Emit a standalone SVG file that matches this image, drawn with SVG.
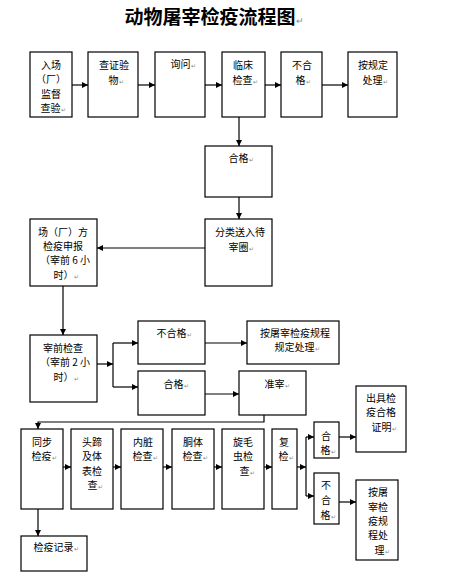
<svg xmlns="http://www.w3.org/2000/svg" width="449" height="581" viewBox="0 0 449 581">
<style>
.b{fill:#fff;stroke:#000;stroke-width:1.2}
.t{font-family:"Noto Sans CJK SC","Noto Sans",sans-serif;font-size:10px;text-anchor:middle;fill:#000}
.m{font-size:6px;fill:#888}
.c line,.c path{stroke:#000;stroke-width:1.2;fill:none}
.a{marker-end:url(#ah)}
</style>
<defs>
<marker id="ah" markerUnits="userSpaceOnUse" markerWidth="7" markerHeight="7" refX="6" refY="3" orient="auto">
<path d="M0,0 L6,3 L0,6 z" fill="#000"/>
</marker>
</defs>
<rect width="449" height="581" fill="#fff"/>
<text x="214" y="24" style="font-family:'Noto Sans CJK SC',sans-serif;font-size:19px;font-weight:bold;text-anchor:middle">动物屠宰检疫流程图<tspan class="m" style="font-size:9px;font-weight:normal">↵</tspan></text>

<g class="c">
<line class="a" x1="72" y1="85" x2="88" y2="85"/>
<line class="a" x1="138" y1="85" x2="155" y2="85"/>
<line class="a" x1="205" y1="85" x2="222" y2="85"/>
<line class="a" x1="265" y1="85" x2="281" y2="85"/>
<line class="a" x1="322" y1="85" x2="348" y2="85"/>
<line class="a" x1="239" y1="117" x2="239" y2="146"/>
<line class="a" x1="239" y1="197" x2="239" y2="219"/>
<line class="a" x1="205" y1="248" x2="97" y2="248"/>
<line class="a" x1="63" y1="286" x2="63" y2="335"/>
<line class="a" x1="97" y1="364" x2="113" y2="364"/>
<line x1="113" y1="343" x2="113" y2="387"/>
<line class="a" x1="113" y1="343" x2="138" y2="343"/>
<line class="a" x1="113" y1="387" x2="138" y2="387"/>
<line class="a" x1="205" y1="343" x2="247" y2="343"/>
<line class="a" x1="205" y1="394" x2="239" y2="394"/>
<path class="a" d="M264,415 V422 H38 V429"/>
<line class="a" x1="63" y1="467" x2="71" y2="467"/>
<line class="a" x1="113" y1="467" x2="121" y2="467"/>
<line class="a" x1="163" y1="467" x2="172" y2="467"/>
<line class="a" x1="214" y1="467" x2="222" y2="467"/>
<line class="a" x1="264" y1="467" x2="272" y2="467"/>
<line class="a" x1="297" y1="467" x2="306" y2="467"/>
<line x1="306" y1="437" x2="306" y2="496"/>
<line class="a" x1="306" y1="437" x2="314" y2="437"/>
<line class="a" x1="306" y1="496" x2="314" y2="496"/>
<line class="a" x1="339" y1="437" x2="356" y2="437"/>
<line class="a" x1="339" y1="502" x2="356" y2="502"/>
<line class="a" x1="38" y1="509" x2="38" y2="536"/>
</g>

<g id="n1"><rect class="b" x="30" y="52" width="42" height="65"/><text class="t"><tspan x="51" y="69">入场</tspan><tspan x="51" y="83">（厂）</tspan><tspan x="51" y="98">监督</tspan><tspan x="53" y="112">查验<tspan class="m">↵</tspan></tspan></text></g>
<g id="n2"><rect class="b" x="88" y="52" width="50" height="65"/><text class="t"><tspan x="114" y="69">查证验</tspan><tspan x="116" y="84">物<tspan class="m">↵</tspan></tspan></text></g>
<g id="n3"><rect class="b" x="155" y="52" width="50" height="65"/><text class="t"><tspan x="183" y="68">询问<tspan class="m">↵</tspan></tspan></text></g>
<g id="n4"><rect class="b" x="222" y="52" width="43" height="65"/><text class="t"><tspan x="243" y="69">临床</tspan><tspan x="245" y="84">检查<tspan class="m">↵</tspan></tspan></text></g>
<g id="n5"><rect class="b" x="281" y="52" width="41" height="65"/><text class="t"><tspan x="302" y="69">不合</tspan><tspan x="303" y="84">格<tspan class="m">↵</tspan></tspan></text></g>
<g id="n6"><rect class="b" x="348" y="52" width="49" height="65"/><text class="t"><tspan x="373" y="69">按规定</tspan><tspan x="375" y="84">处理<tspan class="m">↵</tspan></tspan></text></g>
<g id="n7"><rect class="b" x="205" y="146" width="67" height="51"/><text class="t"><tspan x="241" y="162">合格<tspan class="m">↵</tspan></tspan></text></g>
<g id="n8"><rect class="b" x="205" y="219" width="67" height="67"/><text class="t"><tspan x="240" y="236">分类送入待</tspan><tspan x="241" y="251">宰圈<tspan class="m">↵</tspan></tspan></text></g>
<g id="n9"><rect class="b" x="30" y="219" width="67" height="67"/><text class="t"><tspan x="63" y="236">场（厂）方</tspan><tspan x="63" y="250">检疫申报</tspan><tspan x="65" y="264">（宰前 6 小</tspan><tspan x="66" y="279">时）<tspan class="m">↵</tspan></tspan></text></g>
<g id="n10"><rect class="b" x="30" y="335" width="67" height="67"/><text class="t"><tspan x="63" y="352">宰前检查</tspan><tspan x="65" y="366">（宰前 2 小</tspan><tspan x="66" y="381">时）<tspan class="m">↵</tspan></tspan></text></g>
<g id="n11"><rect class="b" x="138" y="321" width="67" height="43"/><text class="t"><tspan x="174" y="337">不合格<tspan class="m">↵</tspan></tspan></text></g>
<g id="n12"><rect class="b" x="247" y="321" width="92" height="43"/><text class="t"><tspan x="295" y="337">按屠宰检疫规程</tspan><tspan x="297" y="351">规定处理<tspan class="m">↵</tspan></tspan></text></g>
<g id="n13"><rect class="b" x="138" y="371" width="67" height="44"/><text class="t"><tspan x="176" y="388">合格<tspan class="m">↵</tspan></tspan></text></g>
<g id="n14"><rect class="b" x="239" y="371" width="67" height="44"/><text class="t"><tspan x="277" y="388">准宰<tspan class="m">↵</tspan></tspan></text></g>
<g id="n15"><rect class="b" x="356" y="386" width="50" height="66"/><text class="t"><tspan x="381" y="402">出具检</tspan><tspan x="381" y="416">疫合格</tspan><tspan x="384" y="431">证明<tspan class="m">↵</tspan></tspan></text></g>
<g id="n16"><rect class="b" x="21" y="429" width="42" height="80"/><text class="t"><tspan x="42" y="446">同步</tspan><tspan x="44" y="460">检疫<tspan class="m">↵</tspan></tspan></text></g>
<g id="n17"><rect class="b" x="71" y="429" width="42" height="80"/><text class="t"><tspan x="92" y="446">头蹄</tspan><tspan x="92" y="460">及体</tspan><tspan x="92" y="475">表检</tspan><tspan x="95" y="489">查<tspan class="m">↵</tspan></tspan></text></g>
<g id="n18"><rect class="b" x="121" y="429" width="42" height="80"/><text class="t"><tspan x="143" y="446">内脏</tspan><tspan x="145" y="460">检查<tspan class="m">↵</tspan></tspan></text></g>
<g id="n19"><rect class="b" x="172" y="429" width="42" height="80"/><text class="t"><tspan x="193" y="446">胴体</tspan><tspan x="195" y="460">检查<tspan class="m">↵</tspan></tspan></text></g>
<g id="n20"><rect class="b" x="222" y="429" width="42" height="80"/><text class="t"><tspan x="243" y="446">旋毛</tspan><tspan x="243" y="460">虫检</tspan><tspan x="247" y="475">查<tspan class="m">↵</tspan></tspan></text></g>
<g id="n21"><rect class="b" x="272" y="429" width="25" height="80"/><text class="t"><tspan x="284" y="446">复</tspan><tspan x="286" y="460">检<tspan class="m">↵</tspan></tspan></text></g>
<g id="n22"><rect class="b" x="314" y="422" width="25" height="36"/><text class="t"><tspan x="326" y="440">合</tspan><tspan x="328" y="454">格<tspan class="m">↵</tspan></tspan></text></g>
<g id="n23"><rect class="b" x="314" y="473" width="25" height="51"/><text class="t"><tspan x="326" y="489">不</tspan><tspan x="326" y="504">合</tspan><tspan x="328" y="519">格<tspan class="m">↵</tspan></tspan></text></g>
<g id="n24"><rect class="b" x="356" y="480" width="42" height="80"/><text class="t"><tspan x="378" y="496">按屠</tspan><tspan x="378" y="511">宰检</tspan><tspan x="378" y="525">疫规</tspan><tspan x="378" y="539">程处</tspan><tspan x="382" y="554">理<tspan class="m">↵</tspan></tspan></text></g>
<g id="n25"><rect class="b" x="21" y="536" width="66" height="35"/><text class="t"><tspan x="56" y="551">检疫记录<tspan class="m">↵</tspan></tspan></text></g>
</svg>
